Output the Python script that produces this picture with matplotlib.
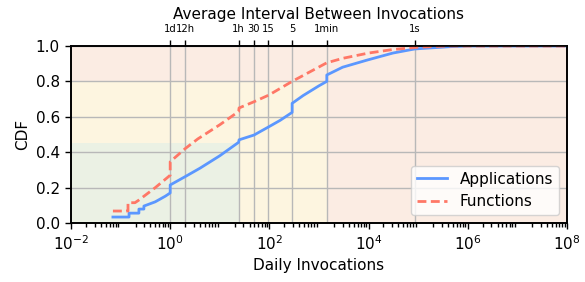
import numpy as np
import matplotlib.pyplot as plt

# CDF points (daily invocations, cumulative fraction)
app_x = [0.07, 0.148, 0.148, 0.234, 0.234, 0.295, 0.295, 0.5, 0.8, 1.0, 1.0, 2.0, 4.0, 10, 24, 24.5, 49, 98, 165, 288, 288, 480, 1000, 1440, 1440, 3000, 9300, 31000, 85000, 440000, 1e6, 1e8]
app_y = [0.034, 0.034, 0.056, 0.056, 0.079, 0.079, 0.096, 0.12, 0.152, 0.17, 0.215, 0.262, 0.31, 0.38, 0.456, 0.47, 0.497, 0.544, 0.58, 0.625, 0.676, 0.72, 0.775, 0.80, 0.836, 0.88, 0.92, 0.96, 0.983, 0.996, 1.0, 1.0]
fn_x = [0.07, 0.141, 0.141, 0.195, 0.234, 0.5, 1.0, 1.0, 2.0, 3.6, 10, 24, 24.5, 49, 98, 288, 1440, 3000, 10000, 31000, 100000, 400000, 1e6, 1e8]
fn_y = [0.068, 0.068, 0.115, 0.115, 0.13, 0.20, 0.27, 0.346, 0.42, 0.475, 0.555, 0.63, 0.65, 0.685, 0.723, 0.80, 0.905, 0.93, 0.96, 0.98, 0.993, 1.0, 1.0, 1.0]

# top axis: average interval, expressed as invocations per day
top_labels = ["1d", "12h", "1h", "30", "15", "5", "1min", "1s"]
top_ticks = [1, 2, 24, 48, 96, 288, 1440, 86400]

fig, ax = plt.subplots(figsize=(5.85, 2.82), dpi=100)
fig.subplots_adjust(left=0.1214, right=0.969, bottom=0.209, top=0.837)

ax.set_xscale("log")
ax.set_xlim(1e-2, 1e8)
ax.set_ylim(0, 1)

# background zones
ax.axhspan(0, 1, color="#fbece3", zorder=0)
ax.fill_between([1e-2, 1440], 0, 0.8, color="#fdf5e0", zorder=0, lw=0)
ax.fill_between([1e-2, 24], 0, 0.45, color="#ebf1e4", zorder=0, lw=0)

# grid: horizontal at y ticks, vertical at the interval ticks
ax.set_yticks([0, 0.2, 0.4, 0.6, 0.8, 1.0])
ax.grid(axis="y", color="#b8b8b8", lw=1, zorder=1)
ax.set_axisbelow(True)
for t in top_ticks:
    ax.axvline(t, color="#b8b8b8", lw=1, zorder=1)

ax.plot(app_x, app_y, color="#5b97ff", lw=2, label="Applications", zorder=3)
ax.plot(fn_x, fn_y, color="#ff7766", lw=2, ls=(0, (3.2, 1.6)), label="Functions", zorder=3)

ax.set_xlabel("Daily Invocations", fontsize=11)
ax.set_ylabel("CDF", fontsize=11)

top = ax.twiny()
top.set_xscale("log")
top.set_xlim(ax.get_xlim())
top.set_xticks(top_ticks)
top.set_xticklabels(top_labels, fontsize=7.2)
top.minorticks_off()
top.tick_params(axis="x", length=4.5, width=1, pad=4)
top.set_xlabel("Average Interval Between Invocations", fontsize=11, labelpad=4)

# bottom ticks, set after the twin so nothing resets them
ax.set_xticks([1e-2, 1e0, 1e2, 1e4, 1e6, 1e8])
minor = [m * 10.0 ** e for e in range(-2, 8) for m in range(2, 10)]
ax.set_xticks(minor, minor=True)
ax.set_xticklabels([], minor=True)
ax.set_xlim(1e-2, 1e8)
ax.tick_params(labelsize=11, length=4.5, width=1)
ax.tick_params(axis="x", which="minor", length=3, width=1, bottom=True, top=False)

for a in (ax, top):
    for s in a.spines.values():
        s.set_linewidth(1.2)

ax.legend(loc="lower right", fontsize=11)

fig.savefig("out.png")
